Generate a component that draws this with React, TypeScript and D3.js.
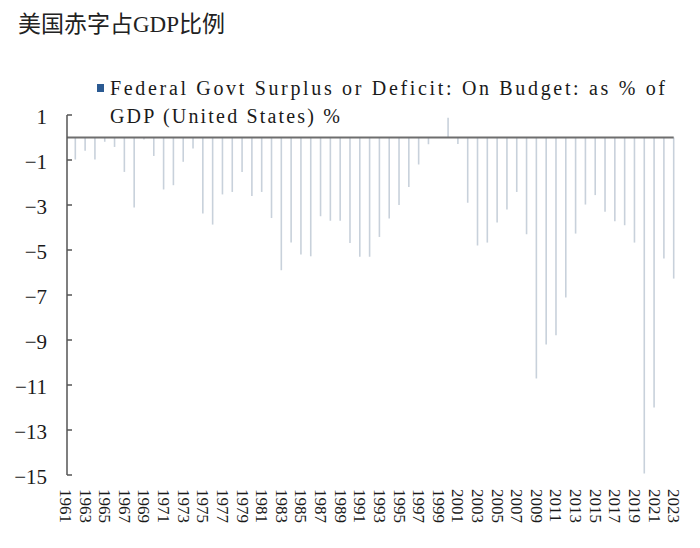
import React from "react";
import * as d3 from "d3";

const title = "美国赤字占GDP比例";
const legendLine1 = "Federal Govt Surplus or Deficit: On Budget: as % of";
const legendLine2 = "GDP (United States) %";

const years: number[] = [
  1961, 1962, 1963, 1964, 1965, 1966, 1967, 1968, 1969, 1970,
  1971, 1972, 1973, 1974, 1975, 1976, 1977, 1978, 1979, 1980,
  1981, 1982, 1983, 1984, 1985, 1986, 1987, 1988, 1989, 1990,
  1991, 1992, 1993, 1994, 1995, 1996, 1997, 1998, 1999, 2000,
  2001, 2002, 2003, 2004, 2005, 2006, 2007, 2008, 2009, 2010,
  2011, 2012, 2013, 2014, 2015, 2016, 2017, 2018, 2019, 2020,
  2021, 2022, 2023,
];

const values: (number | null)[] = [
  null, -0.98, -0.59, -0.98, -0.19, -0.42, -1.53, -3.11, -0.09, -0.82,
  -2.31, -2.12, -1.08, -0.49, -3.38, -3.87, -2.53, -2.42, -1.53, -2.6,
  -2.42, -3.58, -5.9, -4.67, -5.2, -5.28, -3.5, -3.7, -3.7, -4.69,
  -5.3, -5.3, -4.42, -3.6, -3.0, -2.2, -1.2, -0.3, 0.0, 0.88,
  -0.29, -2.9, -4.8, -4.67, -3.78, -3.2, -2.42, -4.3, -10.71, -9.2,
  -8.79, -7.11, -4.27, -2.98, -2.56, -3.3, -3.72, -3.9, -4.67, -14.93,
  -12.0, -5.38, -6.27,
];

const yTicks: number[] = [1, -1, -3, -5, -7, -9, -11, -13, -15];
const xLabelYears: number[] = years.filter((y) => y % 2 === 1);

export default function App() {
  const W = 700;
  const H = 548;
  const axisX = 67;

  const x = d3.scalePoint<number>().domain(years).range([65.5, 673.7]);
  const y = d3.scaleLinear().domain([1, -15]).range([115, 475]);

  const serif = '"Liberation Serif", "Times New Roman", serif';
  const fmt = (v: number) => (v < 0 ? "\u2212" + Math.abs(v) : String(v));

  const lastX = x(years[years.length - 1]) as number;

  return (
    <svg
      width={W}
      height={H}
      style={{ position: "absolute", left: 0, top: 0, background: "#fff" }}
    >
      <rect x={0} y={0} width={W} height={H} fill="#fff" />
      <text
        x={18}
        y={32}
        fontSize={23}
        fontFamily={'"Liberation Serif", "Noto Sans CJK SC", serif'}
        fill="#222"
      >
        {title}
      </text>

      <rect x={97} y={84} width={7} height={8} fill="#2b5a92" />
      <text
        x={110}
        y={95}
        fontSize={20}
        fontFamily={serif}
        fill="#1a1a1a"
        textLength={555}
        lengthAdjust="spacing"
      >
        {legendLine1}
      </text>
      <text
        x={110}
        y={123}
        fontSize={20}
        fontFamily={serif}
        fill="#1a1a1a"
        textLength={230}
        lengthAdjust="spacing"
      >
        {legendLine2}
      </text>

      <g>
        {years.map((yr, i) => {
          const v = values[i];
          if (v === null || v === 0) return null;
          const cx = x(yr) as number;
          return (
            <line
              key={yr}
              x1={cx}
              x2={cx}
              y1={y(0)}
              y2={y(v)}
              stroke="#c8d1db"
              strokeWidth={1.6}
            />
          );
        })}
      </g>

      <line
        x1={axisX}
        x2={lastX}
        y1={y(0)}
        y2={y(0)}
        stroke="#6e6e6e"
        strokeWidth={2}
      />

      <line
        x1={axisX}
        x2={axisX}
        y1={y(1)}
        y2={y(-15)}
        stroke="#555"
        strokeWidth={1.5}
      />
      {yTicks.map((t) => (
        <g key={t}>
          <line
            x1={axisX}
            x2={axisX + 5}
            y1={y(t)}
            y2={y(t)}
            stroke="#555"
            strokeWidth={1.5}
          />
          <text
            x={47}
            y={y(t) + 2}
            textAnchor="end"
            dominantBaseline="central"
            fontSize={21}
            fontFamily={serif}
            fill="#1a1a1a"
          >
            {fmt(t)}
          </text>
        </g>
      ))}

      {xLabelYears.map((yr) => {
        const cx = x(yr) as number;
        return (
          <text
            key={yr}
            transform={`translate(${cx},489) rotate(90)`}
            textAnchor="start"
            dominantBaseline="central"
            fontSize={17}
            fontFamily={serif}
            fill="#1a1a1a"
          >
            {yr}
          </text>
        );
      })}
    </svg>
  );
}
